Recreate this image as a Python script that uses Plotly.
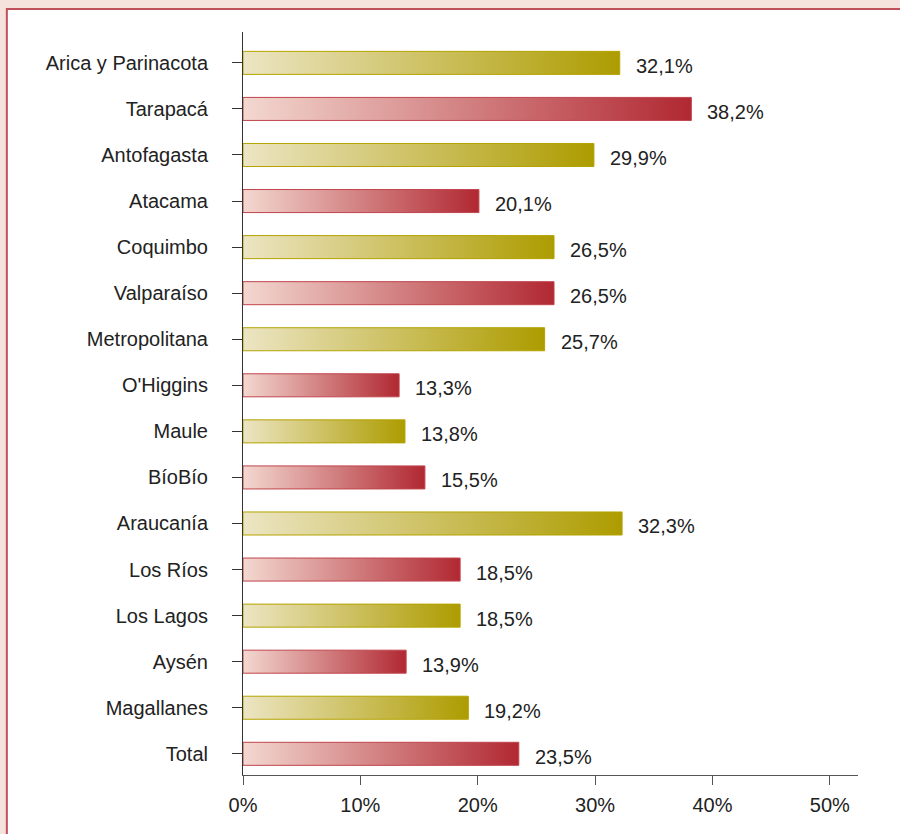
import plotly.graph_objects as go

regions = [
    "Arica y Parinacota", "Tarapacá", "Antofagasta", "Atacama", "Coquimbo",
    "Valparaíso", "Metropolitana", "O'Higgins", "Maule", "BíoBío",
    "Araucanía", "Los Ríos", "Los Lagos", "Aysén", "Magallanes", "Total",
]
values = [32.1, 38.2, 29.9, 20.1, 26.5, 26.5, 25.7, 13.3, 13.8, 15.5,
          32.3, 18.5, 18.5, 13.9, 19.2, 23.5]
value_labels = ["32,1%", "38,2%", "29,9%", "20,1%", "26,5%", "26,5%", "25,7%",
                "13,3%", "13,8%", "15,5%", "32,3%", "18,5%", "18,5%", "13,9%",
                "19,2%", "23,5%"]
x_ticks = [0, 10, 20, 30, 40, 50]

GOLD = {"light": "#ece5c3", "dark": "#ad9c00", "line": "#b4a300"}
RED = {"light": "#f3d8d0", "dark": "#b12832", "line": "#c0444c"}
FONT = "Liberation Sans, Arial, sans-serif"
HALF = 0.25  # half bar thickness, in category units

fig = go.Figure()

# bars drawn as filled shapes so that each one can carry a horizontal gradient
for i, (name, v) in enumerate(zip(regions, values)):
    pal = GOLD if i % 2 == 0 else RED
    fig.add_trace(go.Scatter(
        x=[0, v, v, 0, 0],
        y=[i - HALF, i - HALF, i + HALF, i + HALF, i - HALF],
        mode="lines",
        fill="toself",
        line={"color": pal["line"], "width": 1},
        fillgradient={
            "type": "horizontal",
            "colorscale": [[0, pal["light"]], [1, pal["dark"]]],
        },
        hoverinfo="skip",
        showlegend=False,
        name=name,
    ))

for i, (v, lab) in enumerate(zip(values, value_labels)):
    fig.add_annotation(
        x=v, y=i, text=lab, showarrow=False,
        xanchor="left", xshift=14, yshift=-3,
        font={"size": 20, "color": "#222222", "family": FONT},
    )

# white panel with red frame on a pink page
fig.add_shape(
    type="rect", xref="paper", yref="paper",
    x0=-0.384, x1=1.2, y0=-0.2, y1=1.031,
    fillcolor="white", line={"color": "#c0505a", "width": 2},
    layer="below",
)

fig.update_layout(
    width=900,
    height=834,
    margin={"l": 243, "r": 42, "t": 32, "b": 59},
    paper_bgcolor="#f6e2dd",
    plot_bgcolor="rgba(0,0,0,0)",
    font={"family": FONT, "size": 20, "color": "#222222"},
    showlegend=False,
)

fig.update_xaxes(
    range=[0, 52.4],
    tickvals=x_ticks,
    ticktext=[f"{t}%" for t in x_ticks],
    ticks="outside", ticklen=9, tickcolor="#555555",
    showline=True, linecolor="#555555", linewidth=1,
    showgrid=False, zeroline=False,
    ticklabelstandoff=3,
    fixedrange=True,
)
fig.update_yaxes(
    range=[15.46, -0.67],
    tickvals=list(range(len(regions))),
    ticktext=regions,
    ticks="outside", ticklen=10, tickcolor="#333333",
    showline=True, linecolor="#333333", linewidth=1,
    showgrid=False, zeroline=False,
    ticklabelstandoff=20,
    fixedrange=True,
)

fig.write_html(
    "out.html",
    config={"displayModeBar": False},
    post_script="document.body.style.margin='0';document.body.style.overflow='hidden';",
)
